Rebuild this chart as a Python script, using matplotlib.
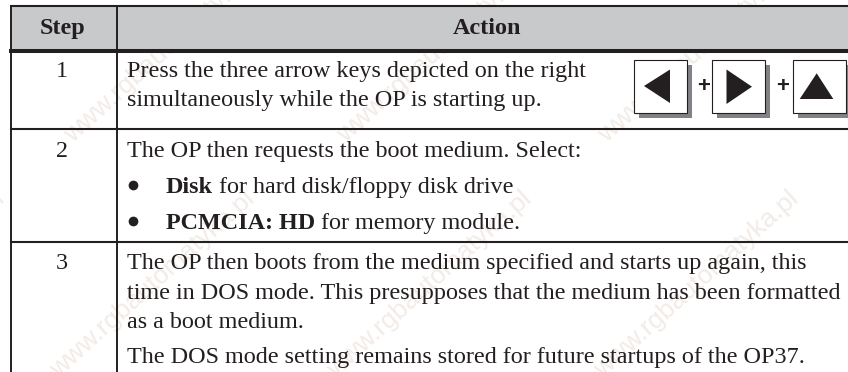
import matplotlib
matplotlib.use("Agg")
import matplotlib.pyplot as plt
from matplotlib.patches import Rectangle, Polygon

plt.rcParams["font.family"] = ["Liberation Serif", "DejaVu Serif"]

# table text
header = ["Step", "Action"]
steps = ["1", "2", "3"]
step_baselines = [77, 157, 269]
plain_lines = [
    ("Press the three arrow keys depicted on the right", 77),
    ("simultaneously while the OP is starting up.", 106),
    ("The OP then requests the boot medium. Select:", 157),
    ("The OP then boots from the medium specified and starts up again, this", 269),
    ("time in DOS mode. This presupposes that the medium has been formatted", 299),
    ("as a boot medium.", 328),
    ("The DOS mode setting remains stored for future startups of the OP37.", 363),
]
bullet_lines = [
    ("Disk", " for hard disk/floppy disk drive", 193),
    ("PCMCIA: HD", " for memory module.", 229),
]

# watermark
wm_text = "www.rgbautomatyka.pl"
wm_x = [167, 440, 701, -97, 153, 430, 697]
wm_y = [49, 49, 49, 284, 284, 284, 284]

# grid lines
row_lines = [51, 128.5, 241.5]
left_x = 11
sep_x = 117
top_y = 6

FS = 17.4
TEXT = "#231f20"

fig = plt.figure(figsize=(8.48, 3.72), dpi=100)
ax = fig.add_axes([0, 0, 1, 1])
ax.set_xlim(0, 848)
ax.set_ylim(372, 0)
ax.axis("off")

for x, y in zip(wm_x, wm_y):
    ax.text(x, y, wm_text, rotation=42, rotation_mode="anchor", fontsize=19, color="#f3ebe6",
            ha="center", va="center", family="Liberation Sans", zorder=0.5)

ax.add_patch(Rectangle((left_x, top_y), 848 - left_x, 45, fc="#c8c9cb", ec="none", zorder=1))

ax.plot([left_x, 848], [top_y, top_y], color=TEXT, lw=1.5, zorder=3)
ax.plot([left_x, 848], [row_lines[0], row_lines[0]], color=TEXT, lw=2.9, zorder=3)
for y in row_lines[1:]:
    ax.plot([left_x, 848], [y, y], color=TEXT, lw=1.5, zorder=3)
ax.plot([left_x, left_x], [top_y, 372], color=TEXT, lw=1.4, zorder=3)
ax.plot([sep_x, sep_x], [top_y, 372], color=TEXT, lw=1.4, zorder=3)

ax.text(62.5, 34, header[0], fontsize=FS, fontweight="bold", ha="center", va="baseline", color=TEXT)
ax.text(487, 34, header[1], fontsize=FS, fontweight="bold", ha="center", va="baseline", color=TEXT)

for s, y in zip(steps, step_baselines):
    ax.text(62, y, s, fontsize=FS, ha="center", va="baseline", color=TEXT)

for s, y in plain_lines:
    ax.text(127, y, s, fontsize=FS, ha="left", va="baseline", color=TEXT)

fig.canvas.draw()
rend = fig.canvas.get_renderer()
for bold, rest, y in bullet_lines:
    ax.plot([133], [y - 8], marker="o", ms=7, mew=0, color=TEXT, zorder=3)
    t = ax.text(166, y, bold, fontsize=FS, fontweight="bold", ha="left", va="baseline", color=TEXT)
    bb = t.get_window_extent(rend)
    ax.text(bb.x1, y, rest, fontsize=FS, ha="left", va="baseline", color=TEXT)

# key boxes
boxes = [633.5, 711.5, 793]
tris = [
    [(644, 86), (670, 69.5), (670, 103)],
    [(726.5, 69.5), (726.5, 104), (752, 86.7)],
    [(799.7, 99), (833.3, 99), (816.7, 73.3)],
]
for x, tri in zip(boxes, tris):
    ax.add_patch(Rectangle((x + 5, 64.5), 53, 53, fc="#808285", ec="none", zorder=2))
    ax.add_patch(Rectangle((x, 59.5), 53, 53, fc="white", ec=TEXT, lw=0.8, zorder=3))
    ax.add_patch(Polygon(tri, closed=True, fc=TEXT, ec="none", zorder=4))

for x in [704, 782.7]:
    ax.text(x, 92, "+", fontsize=16, fontweight="bold", family="Liberation Sans", ha="center",
            va="baseline", color=TEXT, zorder=4)

fig.savefig("out.png", dpi=100)
